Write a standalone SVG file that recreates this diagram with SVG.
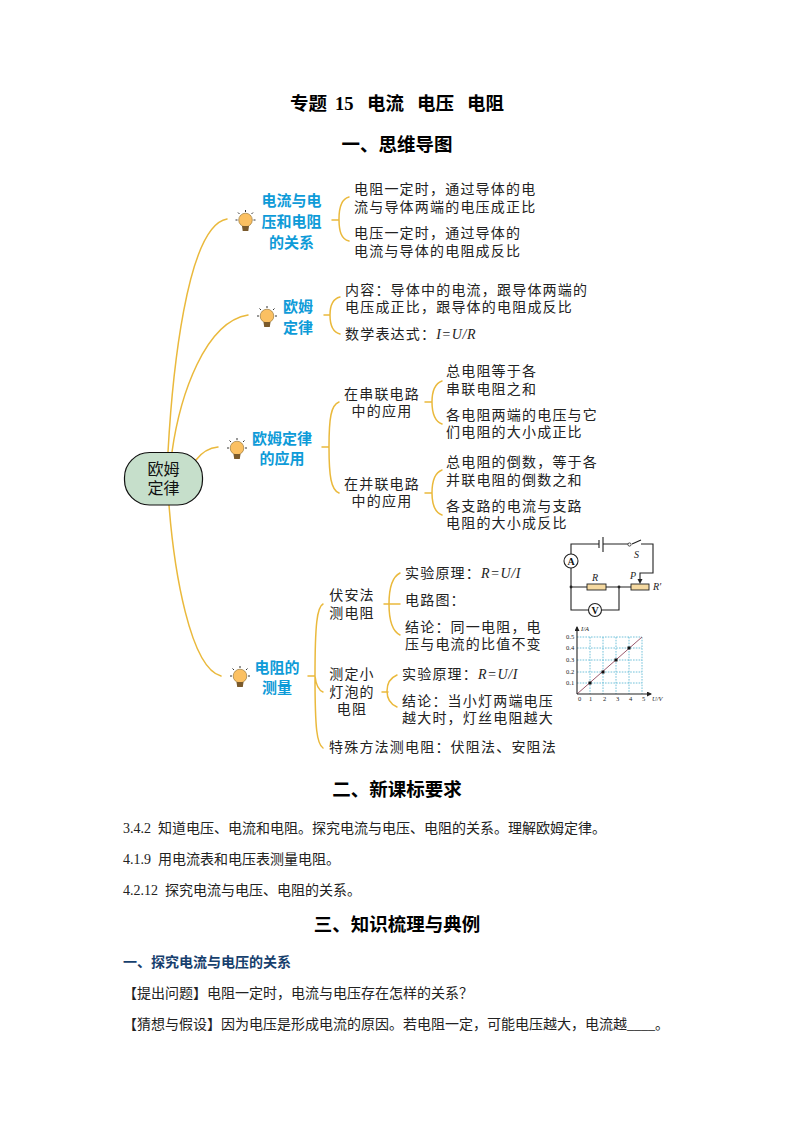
<svg xmlns="http://www.w3.org/2000/svg" width="794" height="1123" viewBox="0 0 794 1123">
<style>
text{font-family:"Liberation Serif","Noto Sans CJK SC",serif;fill:#111}
.h{font-family:"Liberation Serif","Noto Sans CJK SC",sans-serif;font-size:18.500px;font-weight:700;text-anchor:middle;fill:#000}
.b{font-family:"Noto Sans CJK SC",sans-serif;font-size:15px;font-weight:700;fill:#0e9bd8;text-anchor:middle}
.t{font-size:14px;letter-spacing:1.2px;font-family:"Liberation Serif","Noto Sans CJK SC",sans-serif;fill:#222}
.i{font-style:italic;letter-spacing:.7px}
.m{text-anchor:middle}
.p{font-size:14px;font-family:"Liberation Serif","Noto Sans CJK SC",sans-serif;fill:#222}
.c{fill:none;stroke:#eab93c;stroke-width:1.5;stroke-linecap:round}
.w{fill:none;stroke:#222;stroke-width:1.1}
.l{font-size:10px;font-style:italic;fill:#222}
.g{font-size:6.500px;fill:#222}
.d{stroke:#4fb3d0;stroke-width:.8;stroke-dasharray:1.600 1.200;fill:none}
</style>
<defs>
<g id="bulb">
<path d="M0-10V-8M-7.500-7.500L-6-6M7.500-7.500L6-6M-10 0H-8M8 0H10" stroke="#333" stroke-width="1" fill="none"/>
<circle r="6.800" fill="#fbc062" stroke="#8a6a2a" stroke-width=".6"/>
<path d="M-3.500 6H3.500L2.800 11H-2.800Z" fill="#7a5a2c"/>
</g>
<marker id="ar" markerWidth="5" markerHeight="5" refX="4" refY="2.500" orient="auto" markerUnits="userSpaceOnUse"><path d="M0 0L5 2.500L0 5Z" fill="#222"/></marker>
</defs>
<rect width="794" height="1123" fill="#fff"/>

<g id="headings">
<text class="h" y="110" style="text-anchor:start"><tspan x="290">专题</tspan><tspan x="335">15</tspan><tspan x="367">电流</tspan><tspan x="417">电压</tspan><tspan x="467">电阻</tspan></text>
<text class="h" x="397" y="151">一、思维导图</text>
<text class="h" x="397" y="796">二、新课标要求</text>
<text class="h" x="397" y="931">三、知识梳理与典例</text>
</g>

<g id="connectors">
<path class="c" d="M168 452C172 380 186 226 227 219"/>
<path class="c" d="M172 452C180 395 205 322 248 315"/>
<path class="c" d="M196 460C202 452 208 448 218 447"/>
<path class="c" d="M169 505C174 570 190 668 221 676"/>
<path class="c" d="M332 220H339M349 197C341 199 339 208 339 219C339 231 341 239 349 241"/>
<path class="c" d="M324 315H330M340 297C332 299 330 306 330 315C330 325 332 332 340 334"/>
<path class="c" d="M322 447H329M339 402C331 405 329 418 329 447C329 476 331 490 339 493"/>
<path class="c" d="M425 402H432M442 381C434 384 432 392 432 402C432 413 434 421 442 424"/>
<path class="c" d="M425 493H432M442 470C434 473 432 482 432 493C432 504 434 512 442 515"/>
<path class="c" d="M308 676H315M323 604C317 607 315 625 315 676C315 730 317 744 323 748M315 676C316 685 318 690 323 692"/>
<path class="c" d="M384 604H400M400 573C392 577 389 588 389 604C389 620 392 631 400 635"/>
<path class="c" d="M382 692H388M397 675C390 678 387 684 387 691C387 698 390 704 397 707"/>
</g>

<g id="root">
<rect x="124.500" y="452.500" width="78" height="52.500" rx="25" fill="#c6dfcb" stroke="#111" stroke-width="1.200"/>
<text class="m" x="163.500" y="475" font-size="16">欧姆</text>
<text class="m" x="163.500" y="493.500" font-size="16">定律</text>
</g>

<g id="branch-relation">
<use href="#bulb" x="245.500" y="220"/>
<text class="b" x="291.500" y="205.500">电流与电</text>
<text class="b" x="291.500" y="226.500">压和电阻</text>
<text class="b" x="291.500" y="247.500">的关系</text>
</g>
<g id="branch-law">
<use href="#bulb" x="267" y="316"/>
<text class="b" x="298" y="311.500">欧姆</text>
<text class="b" x="298" y="332.500">定律</text>
</g>
<g id="branch-application">
<use href="#bulb" x="237" y="448"/>
<text class="b" x="282" y="443.500">欧姆定律</text>
<text class="b" x="282" y="463.500">的应用</text>
</g>
<g id="branch-measure">
<use href="#bulb" x="240" y="676"/>
<text class="b" x="277" y="672.500">电阻的</text>
<text class="b" x="277" y="692.500">测量</text>
</g>

<g id="leaf-relation">
<text class="t" x="354" y="194">电阻一定时，通过导体的电</text>
<text class="t" x="354" y="212">流与导体两端的电压成正比</text>
<text class="t" x="354" y="238">电压一定时，通过导体的</text>
<text class="t" x="354" y="256">电流与导体的电阻成反比</text>
</g>
<g id="leaf-law">
<text class="t" x="345" y="295">内容：导体中的电流，跟导体两端的</text>
<text class="t" x="345" y="312">电压成正比，跟导体的电阻成反比</text>
<text class="t" x="345" y="339">数学表达式：<tspan class="i">I=U/R</tspan></text>
</g>
<g id="leaf-series">
<text class="t m" x="382" y="399">在串联电路</text>
<text class="t m" x="382" y="416">中的应用</text>
<text class="t" x="446" y="376">总电阻等于各</text>
<text class="t" x="446" y="394">串联电阻之和</text>
<text class="t" x="446" y="420">各电阻两端的电压与它</text>
<text class="t" x="446" y="437">们电阻的大小成正比</text>
</g>
<g id="leaf-parallel">
<text class="t m" x="382" y="489">在并联电路</text>
<text class="t m" x="382" y="506">中的应用</text>
<text class="t" x="446" y="467">总电阻的倒数，等于各</text>
<text class="t" x="446" y="485">并联电阻的倒数之和</text>
<text class="t" x="446" y="511">各支路的电流与支路</text>
<text class="t" x="446" y="528">电阻的大小成反比</text>
</g>
<g id="leaf-voltammeter">
<text class="t m" x="352" y="600">伏安法</text>
<text class="t m" x="352" y="618">测电阻</text>
<text class="t" x="405" y="578">实验原理：<tspan class="i">R=U/I</tspan></text>
<text class="t" x="405" y="605">电路图：</text>
<text class="t" x="405" y="632">结论：同一电阻，电</text>
<text class="t" x="405" y="649">压与电流的比值不变</text>
</g>
<g id="leaf-bulb">
<text class="t m" x="352" y="679">测定小</text>
<text class="t m" x="352" y="697">灯泡的</text>
<text class="t m" x="352" y="714">电阻</text>
<text class="t" x="402" y="679">实验原理：<tspan class="i">R=U/I</tspan></text>
<text class="t" x="402" y="706">结论：当小灯两端电压</text>
<text class="t" x="402" y="723">越大时，灯丝电阻越大</text>
</g>
<g id="leaf-special">
<text class="t" x="329" y="752">特殊方法测电阻：伏阻法、安阻法</text>
</g>

<g id="circuit">
<path class="w" d="M571 554V544H599M603 544H629M632 544L641 540M641 544H653V573H640V582M571 568V610H588.500M601.500 610H619V587M571 587H587M606 587H631"/>
<path class="w" stroke-width="1.400" d="M599 540V548M603 537V552"/>
<circle cx="629.500" cy="544.500" r="1.600" fill="#fff" stroke="#222" stroke-width=".8"/>
<path d="M637.500 579H642.500L640 584Z" fill="#222"/>
<circle cx="571" cy="561" r="7" fill="#fff" stroke="#222" stroke-width="1.100"/>
<circle cx="595" cy="610" r="6.500" fill="#fff" stroke="#222" stroke-width="1.100"/>
<rect x="587" y="584" width="19" height="6" fill="#f5d9a0" stroke="#222" stroke-width=".9"/>
<rect x="631" y="584" width="18" height="6" fill="#f5d9a0" stroke="#222" stroke-width=".9"/>
<circle cx="571" cy="587" r="1.400" fill="#222"/>
<circle cx="619" cy="587" r="1.400" fill="#222"/>
<text x="571" y="564.500" font-size="10" font-weight="700" text-anchor="middle">A</text>
<text x="595" y="613.500" font-size="10" font-weight="700" text-anchor="middle">V</text>
<text class="l" x="592" y="581">R</text>
<text class="l" x="634" y="558">S</text>
<text class="l" x="630" y="579">P</text>
<text class="l" x="653" y="590">R′</text>
</g>

<g id="graph">
<path class="d" d="M590 637V694M603 637V694M616 637V694M629 637V694M642 637V694M577 683H642M577 672H642M577 660H642M577 648H642M577 637H642"/>
<path d="M577 694L642 637" stroke="#9b5a6e" stroke-width="1" fill="none"/>
<path class="w" marker-end="url(#ar)" d="M577 694H651"/>
<path class="w" marker-end="url(#ar)" d="M577 694V627"/>
<g fill="#111"><rect x="588.500" y="681.500" width="3" height="3"/><rect x="601.500" y="670.500" width="3" height="3"/><rect x="614.500" y="658.500" width="3" height="3"/><rect x="627.500" y="646.500" width="3" height="3"/></g>
<text class="g" x="566" y="639">0.5</text>
<text class="g" x="566" y="650">0.4</text>
<text class="g" x="566" y="662">0.3</text>
<text class="g" x="566" y="674">0.2</text>
<text class="g" x="566" y="685">0.1</text>
<text class="g" x="578" y="701">0</text>
<text class="g" x="589" y="701">1</text>
<text class="g" x="603" y="701">2</text>
<text class="g" x="616" y="701">3</text>
<text class="g" x="629" y="701">4</text>
<text class="g" x="642" y="701">5</text>
<text class="g" x="581" y="631" font-style="italic">I/A</text>
<text class="g" x="652" y="701" font-style="italic">U/V</text>
</g>

<g id="body-text">
<text class="p" x="123" y="833">3.4.2<tspan x="158">知道电压、电流和电阻。探究电流与电压、电阻的关系。理解欧姆定律。</tspan></text>
<text class="p" x="123" y="864">4.1.9<tspan x="158">用电流表和电压表测量电阻。</tspan></text>
<text class="p" x="123" y="895">4.2.12<tspan x="165">探究电流与电压、电阻的关系。</tspan></text>
<text x="123" y="967" font-size="14" font-weight="700" style="fill:#17406d;font-family:'Noto Sans CJK SC',sans-serif">一、探究电流与电压的关系</text>
<text class="p" x="123" y="998">【提出问题】电阻一定时，电流与电压存在怎样的关系？</text>
<text class="p" x="123" y="1029">【猜想与假设】因为电压是形成电流的原因。若电阻一定，可能电压越大，电流越<tspan>____</tspan>。</text>
</g>
</svg>
